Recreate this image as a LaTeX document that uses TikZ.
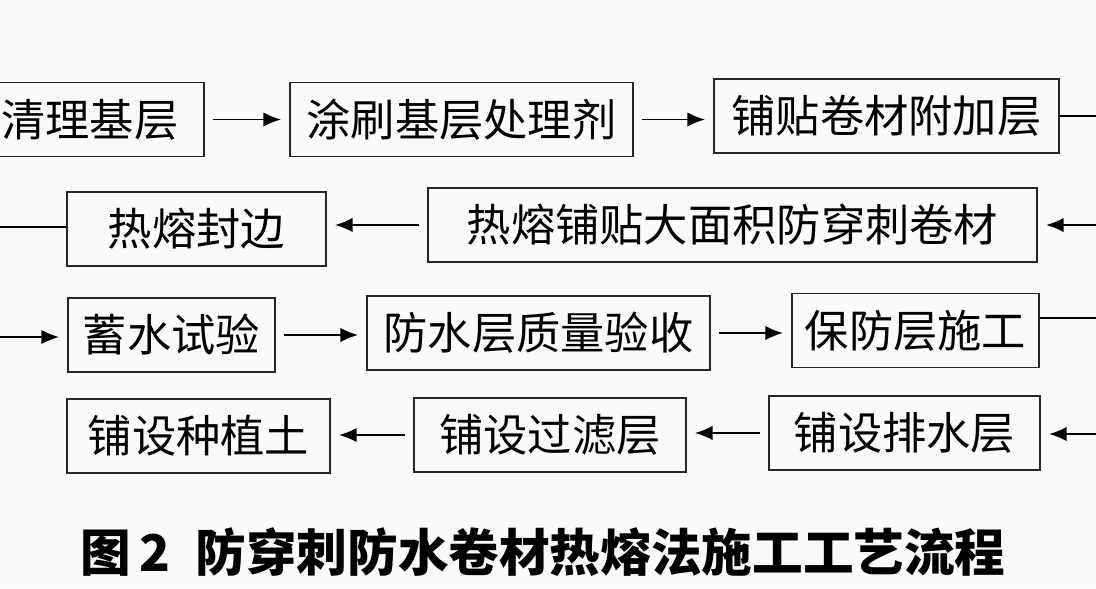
\documentclass[tikz,border=0pt]{standalone}
\usepackage{fontspec}
\setmainfont{Noto Sans CJK SC}
\usetikzlibrary{arrows.meta}

\tikzset{
  stepbox/.style={draw=black!85, line width=1.3pt, minimum height=1.85cm, inner sep=0pt,
    font=\fontsize{31.5}{36}\selectfont},
  flow/.style={line width=1.2pt, -{Latex[length=4.4mm,width=3.6mm]}, shorten <=0.2cm, shorten >=0.2cm},
  link/.style={line width=1.2pt},
}

\begin{document}
\begin{tikzpicture}[x=0.025cm, y=-0.025cm]
\fill[gray!4] (0,0) rectangle (1096,588);
\useasboundingbox (0,0) rectangle (1096,588);

% row 1
\node[stepbox, minimum width=5.7cm] (clean) at (90,119.5) {清理基层};
\node[stepbox, minimum width=8.58cm] (brush) at (461.5,119.5) {涂刷基层处理剂};
\node[stepbox, minimum width=8.63cm] (extra) at (886.5,116) {铺贴卷材附加层};
% row 2
\node[stepbox, minimum width=6.48cm] (seal) at (196.5,229) {热熔封边};
\node[stepbox, minimum width=15.23cm] (hotlay) at (732.5,225) {热熔铺贴大面积防穿刺卷材};
% row 3
\node[stepbox, minimum width=5.18cm] (pond) at (171.5,335) {蓄水试验};
\node[stepbox, minimum width=8.58cm] (accept) at (538.5,333) {防水层质量验收};
\node[stepbox, minimum width=6.18cm] (protect) at (915.5,330.5) {保防层施工};
% row 4
\node[stepbox, minimum width=6.58cm] (soil) at (198.5,436) {铺设种植土};
\node[stepbox, minimum width=6.8cm] (filter) at (550,435) {铺设过滤层};
\node[stepbox, minimum width=6.78cm] (drain) at (904.5,433) {铺设排水层};

% free ends at the picture edges
\coordinate (out1) at (1096,116);
\coordinate (in2) at (1096,225);
\coordinate (out2) at (0,227);
\coordinate (in3) at (0,337);
\coordinate (out3) at (1096,318);
\coordinate (in4) at (1096,434);

\draw[flow] (clean.east) -- (clean.east -| brush.west);
\draw[flow] (brush.east) -- (brush.east -| extra.west);
\draw[link] (out1 -| extra.east) -- (out1);

\draw[flow, shorten <=0pt] (in2) -- (in2 -| hotlay.east);
\draw[flow] (hotlay.west) -- (hotlay.west -| seal.east);
\draw[link] (out2 -| seal.west) -- (out2);

\draw[flow, shorten <=0pt] (in3) -- (in3 -| pond.west);
\draw[flow] (pond.east) -- (pond.east -| accept.west);
\draw[flow] (accept.east) -- (accept.east -| protect.west);
\draw[link] (out3 -| protect.east) -- (out3);

\draw[flow, shorten <=0pt] (in4) -- (in4 -| drain.east);
\draw[flow] (drain.west) -- (drain.west -| filter.east);
\draw[flow] (filter.west) -- (filter.west -| soil.east);

\node[font=\fontsize{36}{40}\selectfont\bfseries] (caption) at (543,552) {图\,2\enspace 防穿刺防水卷材热熔法施工工艺流程};
\end{tikzpicture}
\end{document}
